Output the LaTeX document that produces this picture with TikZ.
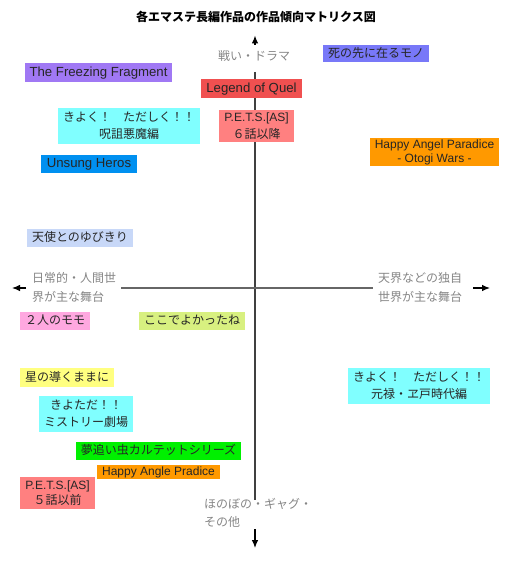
\documentclass[tikz,border=0pt]{standalone}
\usepackage{fontspec}
\setmainfont{Liberation Sans}
\newfontfamily\cjk{Noto Sans CJK JP}
\usetikzlibrary{arrows.meta}
\definecolor{cShi}{HTML}{7878F8}
\definecolor{cFrz}{HTML}{A078F4}
\definecolor{cQuel}{HTML}{F05050}
\definecolor{cPets}{HTML}{FF8080}
\definecolor{cCyan}{HTML}{80FFFF}
\definecolor{cOrange}{HTML}{FF9900}
\definecolor{cUns}{HTML}{0090F0}
\definecolor{cTen}{HTML}{C8D8F8}
\definecolor{cMomo}{HTML}{FFA8E0}
\definecolor{cKoko}{HTML}{D8F080}
\definecolor{cHoshi}{HTML}{FFFF80}
\definecolor{cGreen}{HTML}{00F000}
\definecolor{axlabel}{HTML}{858585}
\tikzset{
  box/.style={rectangle, inner sep=0pt, align=center, text=black!85, font=\fontsize{12}{17}\selectfont},
  one/.style={text height=10pt, text depth=2.3pt},
  big/.style={font=\fontsize{13.2}{17}\selectfont},
  axislabel/.style={inner sep=0pt, align=left, text=axlabel, font=\cjk\fontsize{12}{19}\selectfont},
  axisline/.style={draw=black!75, line width=1.1pt},
  axisarrow/.style={draw=black, line width=1.1pt, -{Latex[length=8pt,width=6.5pt]}},
}
\begin{document}
\begin{tikzpicture}[x=1pt,y=-1pt]
\useasboundingbox (0,0) rectangle (512,564);
% title
\node[inner sep=0pt, font=\cjk\bfseries\fontsize{12}{14}\selectfont] (title) at (256,17) {各エマステ長編作品の作品傾向マトリクス図};
% axes
\coordinate (vt) at (255,72);
\coordinate (vb) at (255,500);
\coordinate (hl) at (121,288);
\coordinate (hr) at (373,288);
\draw[axisline] (vt) -- (vb);
\draw[axisline, draw=black!60] (hl) -- (hr);
\coordinate (ta0) at (255,45); \coordinate (ta1) at (255,35.5);
\coordinate (ba0) at (255,529); \coordinate (ba1) at (255,548);
\coordinate (la0) at (26,288); \coordinate (la1) at (12,288);
\coordinate (ra0) at (473,288); \coordinate (ra1) at (490,288);
\draw[axisarrow] (ta0) -- (ta1);
\draw[axisarrow] (ba0) -- (ba1);
\draw[axisarrow] (la0) -- (la1);
\draw[axisarrow] (ra0) -- (ra1);
% axis labels
\node[axislabel] (lTop) at (254,56) {戦い・ドラマ};
\node[axislabel, anchor=west, font=\cjk\fontsize{12}{18}\selectfont] (lBot) at (204,513) {ほのぼの・ギャグ・\\その他};
\node[axislabel, anchor=west] (lLeft) at (32,287.5) {日常的・人間世\\界が主な舞台};
\node[axislabel, anchor=west] (lRight) at (378,287.5) {天界などの独自\\世界が主な舞台};
% boxes
\node[box, one, fill=cShi, minimum width=106, minimum height=17] (shi) at (376,53.5) {\cjk 死の先に在るモノ};
\node[box, one, big, fill=cFrz, minimum width=147, minimum height=19] (frz) at (98.5,72.5) {The Freezing Fragment};
\node[box, one, big, fill=cQuel, minimum width=101, minimum height=19] (quel) at (251.5,88.5) {Legend of Quel};
\node[box, fill=cCyan, minimum width=142, minimum height=36] (kiyo1) at (129,126) {\cjk きよく！　ただしく！！\\\cjk 呪詛悪魔編};
\node[box, fill=cPets, minimum width=75, minimum height=32] (pets6) at (256.5,126) {P.E.T.S.[AS]\\\cjk ６話以降};
\node[box, fill=cOrange, minimum width=129, minimum height=28, font=\fontsize{12}{14}\selectfont] (hap1) at (434.5,152) {Happy Angel Paradice\\- Otogi Wars -};
\node[box, one, big, fill=cUns, minimum width=96, minimum height=18] (uns) at (89,164) {Unsung Heros};
\node[box, one, fill=cTen, minimum width=106, minimum height=18] (ten) at (80,238) {\cjk 天使とのゆびきり};
\node[box, one, fill=cMomo, minimum width=70, minimum height=18] (momo) at (55,321) {\cjk ２人のモモ};
\node[box, one, fill=cKoko, minimum width=106, minimum height=18] (koko) at (192,321) {\cjk ここでよかったね};
\node[box, one, fill=cHoshi, minimum width=94, minimum height=19] (hoshi) at (67,377.5) {\cjk 星の導くままに};
\node[box, fill=cCyan, minimum width=142, minimum height=36] (kiyo2) at (419,386) {\cjk きよく！　ただしく！！\\\cjk 元禄・ヱ戸時代編};
\node[box, fill=cCyan, minimum width=94, minimum height=36] (kiyota) at (86,414) {\cjk きよただ！！\\\cjk ミストリー劇場};
\node[box, one, fill=cGreen, minimum width=165, minimum height=18] (yume) at (158.5,451) {\cjk 夢追い虫カルテットシリーズ};
\node[box, one, fill=cOrange, minimum width=123, minimum height=14] (hap2) at (158.5,472) {Happy Angle Pradice};
\node[box, fill=cPets, minimum width=75, minimum height=32, font=\fontsize{12}{15}\selectfont] (pets5) at (57.5,493) {P.E.T.S.[AS]\\\cjk ５話以前};
\end{tikzpicture}
\end{document}
